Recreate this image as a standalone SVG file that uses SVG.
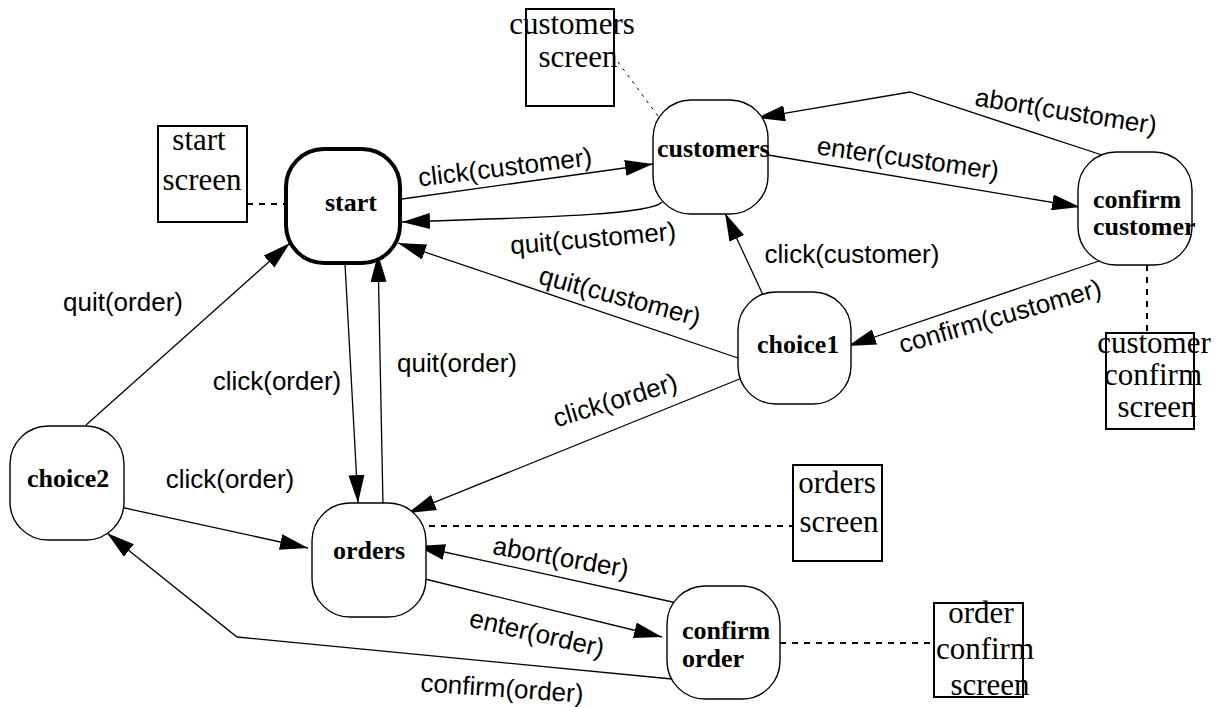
<svg xmlns="http://www.w3.org/2000/svg" width="1223" height="707" viewBox="0 0 1223 707">
  <style>
    .state { fill: #fff; stroke: #000; stroke-width: 1.4; }
    .initial { stroke-width: 4; }
    .screen { fill: none; stroke: #000; stroke-width: 2; }
    .sname { font-family: "Liberation Serif", "Times New Roman", serif; font-weight: bold; font-size: 26px; fill: #000; }
    .scr { font-family: "Liberation Serif", "Times New Roman", serif; font-size: 31px; fill: #000; text-anchor: middle; }
    .edge { fill: none; stroke: #000; stroke-width: 1.3; marker-end: url(#arrow); }
    .lbl { font-family: "Liberation Sans", Arial, sans-serif; font-size: 26px; fill: #000; text-anchor: middle; }
    .link { fill: none; stroke: #000; stroke-width: 2; stroke-dasharray: 6 6; }
    .fine { fill: none; stroke: #000; stroke-width: 1; stroke-dasharray: 3 5; }
  </style>
  <defs>
    <marker id="arrow" markerUnits="userSpaceOnUse" viewBox="0 0 28 16" markerWidth="28" markerHeight="16" refX="28" refY="8" orient="auto">
      <path d="M0,0 L28,8 L0,16 Z" fill="#000"/>
    </marker>
  </defs>

  <rect width="1223" height="707" fill="#fff"/>

  <!-- screen attachments -->
  <g id="screens">
    <g id="customers-screen">
      <rect class="screen" x="526" y="9" width="88" height="97"/>
      <text class="scr" x="572" y="34">customers</text>
      <text class="scr" x="578" y="67">screen</text>
      <line class="fine" x1="618" y1="62" x2="658" y2="116"/>
    </g>
    <g id="start-screen">
      <rect class="screen" x="158" y="126" width="89" height="96"/>
      <text class="scr" x="199" y="150">start</text>
      <text class="scr" x="202" y="190">screen</text>
      <line class="link" x1="247" y1="204" x2="286" y2="204"/>
    </g>
    <g id="customer-confirm-screen">
      <rect class="screen" x="1106" y="333" width="88" height="96"/>
      <text class="scr" x="1154" y="353">customer</text>
      <text class="scr" x="1153" y="385">confirm</text>
      <text class="scr" x="1157" y="417">screen</text>
      <line class="link" x1="1147" y1="265" x2="1147" y2="333"/>
    </g>
    <g id="orders-screen">
      <rect class="screen" x="793" y="465" width="89" height="96"/>
      <text class="scr" x="837" y="493">orders</text>
      <text class="scr" x="839" y="532">screen</text>
      <line class="link" x1="417" y1="526" x2="793" y2="526"/>
    </g>
    <g id="order-confirm-screen">
      <rect class="screen" x="934" y="603" width="89" height="94"/>
      <text class="scr" x="981" y="623">order</text>
      <text class="scr" x="985" y="659">confirm</text>
      <text class="scr" x="990" y="695">screen</text>
      <line class="link" x1="780" y1="643" x2="934" y2="643"/>
    </g>
  </g>

  <!-- transitions -->
  <g id="connectors">
    <line class="edge" x1="402" y1="199" x2="653" y2="164"/>
    <path class="edge" d="M662,202 C652,214 560,217 402,222"/>
    <line class="edge" x1="768" y1="155" x2="1080" y2="207"/>
    <polyline class="edge" points="1108,157 910,92 757,118"/>
    <line class="edge" x1="763" y1="295" x2="725" y2="213"/>
    <line class="edge" x1="1102" y1="260" x2="848" y2="346"/>
    <line class="edge" x1="738" y1="358" x2="398" y2="243"/>
    <line class="edge" x1="742" y1="378" x2="408" y2="513"/>
    <line class="edge" x1="345" y1="264" x2="358" y2="503"/>
    <line class="edge" x1="383" y1="506" x2="378" y2="254"/>
    <line class="edge" x1="86" y1="425" x2="290" y2="243"/>
    <line class="edge" x1="120" y1="507" x2="308" y2="548"/>
    <line class="edge" x1="677" y1="603" x2="417" y2="546"/>
    <line class="edge" x1="425" y1="579" x2="662" y2="637"/>
    <polyline class="edge" points="672,679 237,637 107,533"/>

    <g id="labels">
      <text class="lbl" transform="translate(505,167) rotate(-7)" y="9">click(customer)</text>
      <text class="lbl" transform="translate(593,238) rotate(-5)" y="9">quit(customer)</text>
      <text class="lbl" transform="translate(908,158) rotate(8)" y="9">enter(customer)</text>
      <text class="lbl" transform="translate(1066,111) rotate(9)" y="9">abort(customer)</text>
      <text class="lbl" x="852" y="263">click(customer)</text>
      <text class="lbl" transform="translate(1000,316) rotate(-16)" y="9">confirm(customer)</text>
      <text class="lbl" transform="translate(620,296) rotate(15)" y="9">quit(customer)</text>
      <text class="lbl" transform="translate(615,400) rotate(-17)" y="9">click(order)</text>
      <text class="lbl" x="123" y="311">quit(order)</text>
      <text class="lbl" x="277" y="390">click(order)</text>
      <text class="lbl" x="457" y="372">quit(order)</text>
      <text class="lbl" x="230" y="488">click(order)</text>
      <text class="lbl" transform="translate(561,557) rotate(10)" y="9">abort(order)</text>
      <text class="lbl" transform="translate(537,633) rotate(13)" y="9">enter(order)</text>
      <text class="lbl" transform="translate(502,688) rotate(4)" y="9">confirm(order)</text>
    </g>
  </g>

  <!-- states -->
  <g id="start">
    <rect class="state initial" x="286" y="149" width="114" height="114" rx="38"/>
    <text class="sname" x="325" y="211">start</text>
  </g>
  <g id="customers">
    <rect class="state" x="653" y="100" width="115" height="114" rx="38"/>
    <text class="sname" x="657" y="157">customers</text>
  </g>
  <g id="confirm-customer">
    <rect class="state" x="1078" y="152" width="114" height="113" rx="38"/>
    <text class="sname" x="1093" y="208">confirm</text>
    <text class="sname" x="1093" y="235">customer</text>
  </g>
  <g id="choice1">
    <rect class="state" x="738" y="292" width="113" height="112" rx="38"/>
    <text class="sname" x="757" y="353">choice1</text>
  </g>
  <g id="choice2">
    <rect class="state" x="10" y="426" width="114" height="114" rx="38"/>
    <text class="sname" x="27" y="487">choice2</text>
  </g>
  <g id="orders">
    <rect class="state" x="312" y="503" width="114" height="114" rx="38"/>
    <text class="sname" x="333" y="559">orders</text>
  </g>
  <g id="confirm-order">
    <rect class="state" x="667" y="586" width="113" height="113" rx="38"/>
    <text class="sname" x="682" y="639">confirm</text>
    <text class="sname" x="682" y="667">order</text>
  </g>
</svg>
